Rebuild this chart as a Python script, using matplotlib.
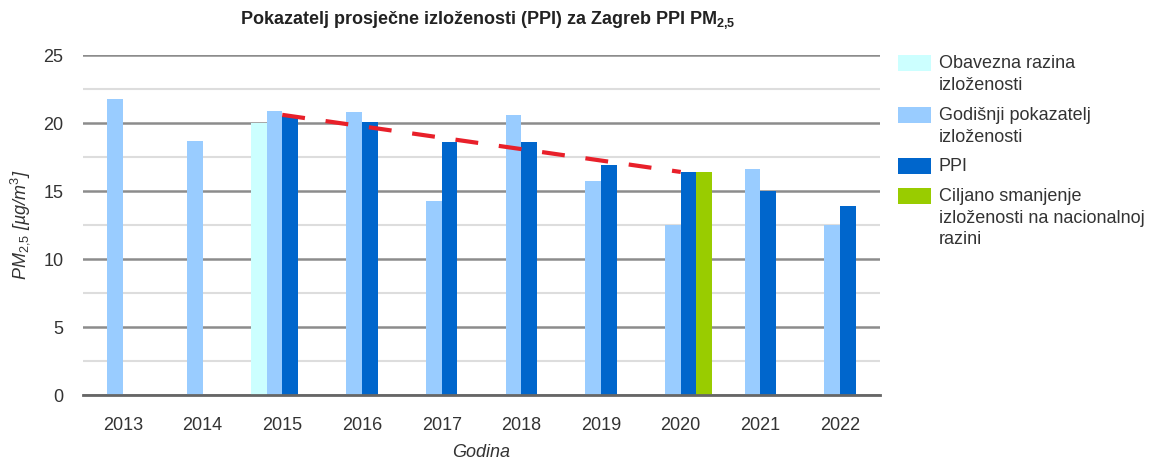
import matplotlib.pyplot as plt
import numpy as np
from matplotlib.patches import Rectangle

plt.rcParams['font.family'] = 'Liberation Sans'
plt.rcParams['mathtext.fontset'] = 'custom'
plt.rcParams['mathtext.rm'] = 'Liberation Sans'
plt.rcParams['mathtext.it'] = 'Liberation Sans:italic'
plt.rcParams['mathtext.bf'] = 'Liberation Sans:bold'

# podaci
godine = [2013, 2014, 2015, 2016, 2017, 2018, 2019, 2020, 2021, 2022]
obavezna = [np.nan, np.nan, 20.0, np.nan, np.nan, np.nan, np.nan, np.nan, np.nan, np.nan]
godisnji = [21.8, 18.7, 20.9, 20.8, 14.3, 20.6, 15.7, 12.5, 16.6, 12.5]
ppi = [np.nan, np.nan, 20.5, 20.1, 18.6, 18.6, 16.9, 16.4, 15.0, 13.9]
ciljano = [np.nan, np.nan, np.nan, np.nan, np.nan, np.nan, np.nan, 16.4, np.nan, np.nan]
trend_godine = [2015, 2020]
trend = [20.6, 16.4]

legenda = ["Obavezna razina\nizloženosti",
           "Godišnji pokazatelj\nizloženosti",
           "PPI",
           "Ciljano smanjenje\nizloženosti na nacionalnoj\nrazini"]
boje = ["#CCFFFF", "#99CCFF", "#0066CC", "#99CC00"]

W, H = 1149, 461
fig = plt.figure(figsize=(W / 100, H / 100), dpi=100)
ax = fig.add_axes([83 / W, 1 - 395 / H, (880 - 83) / W, (395 - 55) / H])

x = np.arange(len(godine))
w = 0.197
serije = [(obavezna, -2 * w), (godisnji, -w), (ppi, 0), (ciljano, w)]
for (vals, off), c in zip(serije, boje):
    v = np.array(vals, dtype=float)
    m = ~np.isnan(v)
    ax.bar(x[m] + off, v[m], w, align='edge', color=c, zorder=3, linewidth=0)

tx = [godine.index(g) for g in trend_godine]
ax.plot(tx, trend, color="#E8202A", linewidth=3, dashes=(5.5, 5), zorder=4)

ax.set_xlim(-0.5, len(godine) - 0.5)
ax.set_ylim(0, 25)
ax.set_xticks(x)
ax.set_xticklabels([str(g) for g in godine])
ax.set_yticks(np.arange(0, 26, 5))
ax.set_yticks(np.arange(2.5, 25, 5), minor=True)
ax.grid(axis='y', which='major', color='#8C8C8C', linewidth=1.8, zorder=0)
ax.grid(axis='y', which='minor', color='#DDDDDD', linewidth=1.5, zorder=0)
ax.tick_params(axis='both', which='both', length=0, labelsize=13, colors='#333333')
ax.tick_params(axis='y', pad=14)
ax.tick_params(axis='x', pad=16)
for s in ['top', 'right', 'left']:
    ax.spines[s].set_visible(False)
ax.spines['bottom'].set_color('#666666')
ax.spines['bottom'].set_linewidth(2)
ax.spines['bottom'].set_zorder(5)

ax.set_xlabel("Godina", fontsize=13, style='italic', color='#333333', labelpad=7)
ax.set_ylabel(r"$PM_{2{,}5}$ [µg/m$^3$]", fontsize=13, style='italic', color='#333333', labelpad=8)

fig.text(488 / W, 1 - 20 / H,
         r"Pokazatelj prosječne izloženosti (PPI) za Zagreb PPI PM$_{\mathbf{2{,}5}}$",
         ha='center', va='center', fontsize=13, fontweight='bold', color='#222222')

# legenda
vrhovi = [55, 107, 158, 188]
for lab, c, t in zip(legenda, boje, vrhovi):
    fig.add_artist(Rectangle((898 / W, 1 - (t + 16) / H), 33 / W, 16 / H,
                             transform=fig.transFigure, color=c, linewidth=0))
    fig.text(939 / W, 1 - t / H, lab, ha='left', va='top', fontsize=13,
             color='#333333', linespacing=1.35)

fig.savefig("out.png", dpi=100)
